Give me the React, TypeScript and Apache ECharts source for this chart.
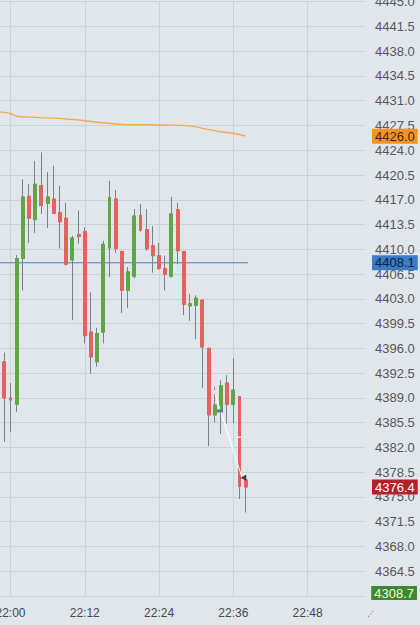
import React, { useEffect, useRef } from "react";
import * as echarts from "echarts";

// minutes after 22:00
const minutes = [-1, 0, 1, 2, 3, 4, 5, 6, 7, 8, 9, 10, 11, 12, 13, 14, 15, 16, 17, 18, 19, 20, 21, 22, 23, 24, 25, 26, 27, 28, 29, 30, 31, 32, 33, 34, 35, 36, 37, 38];
const opens = [4394.1, 4389.0, 4388.1, 4408.7, 4417.5, 4414.2, 4419.0, 4416.5, 4417.1, 4415.2, 4414.4, 4408.5, 4412.1, 4412.5, 4398.3, 4394.1, 4398.3, 4410.2, 4417.1, 4409.7, 4404.2, 4406.2, 4414.8, 4412.8, 4410.5, 4409.1, 4407.3, 4406.2, 4415.6, 4409.7, 4402.0, 4402.1, 4402.8, 4396.0, 4386.6, 4387.4, 4391.1, 4388.1, 4389.2, 4377.4];
const closes = [4389.0, 4388.7, 4408.7, 4417.4, 4414.4, 4419.2, 4416.2, 4417.4, 4415.1, 4413.9, 4407.9, 4411.6, 4411.8, 4397.8, 4394.8, 4398.1, 4410.7, 4417.3, 4410.1, 4404.2, 4406.8, 4414.7, 4412.7, 4410.1, 4409.1, 4407.3, 4406.5, 4415.0, 4409.8, 4402.2, 4402.3, 4403.1, 4396.2, 4386.6, 4388.0, 4390.7, 4388.1, 4390.1, 4376.5, 4376.4];
const lows = [4382.8, 4384.2, 4387.0, 4404.2, 4410.9, 4412.3, 4415.0, 4413.0, 4415.0, 4410.1, 4407.7, 4400.0, 4410.8, 4396.7, 4392.4, 4393.4, 4396.7, 4406.1, 4409.5, 4401.0, 4401.7, 4405.9, 4412.5, 4409.8, 4406.7, 4407.1, 4404.2, 4406.0, 4407.9, 4400.7, 4399.9, 4397.3, 4390.4, 4382.2, 4385.5, 4383.9, 4385.4, 4385.4, 4374.7, 4372.8];
const highs = [4395.4, 4391.1, 4409.2, 4419.9, 4419.2, 4422.5, 4423.7, 4420.9, 4421.8, 4419.0, 4416.6, 4411.9, 4415.5, 4413.1, 4403.9, 4398.9, 4411.2, 4419.7, 4418.4, 4409.8, 4407.5, 4415.7, 4416.4, 4415.7, 4413.3, 4410.9, 4409.1, 4417.4, 4416.6, 4409.7, 4403.7, 4403.5, 4402.9, 4396.1, 4390.6, 4391.5, 4392.2, 4394.6, 4389.2, 4378.1];

// orange average line
const maMinutes = [-2, 0, 1, 4, 9, 12, 15, 18, 24, 29, 31, 34, 36, 38];
const maValues = [4429.45, 4429.2, 4428.8, 4428.65, 4428.42, 4428.18, 4427.88, 4427.66, 4427.57, 4427.45, 4427.1, 4426.62, 4426.4, 4426.0];

// blue level line
const blueLevel = 4408.1;
const blueMinutes = [-12, 38.4];

// drawn annotation line and markers
const annoMinutes = [32.6, 37.45];
const annoValues = [4390.8, 4377.6];
const blueMarker = [33.85, 4387.15];
const blackMarker = [37.6, 4377.7];
const whiteDash = [37, 4383.45];

// right axis price tags
const tagOrange = 4426.0;
const tagBlue = 4408.1;
const tagRed = 4376.4;
const tagGreen = "4308.7";

// axes
const xTickValues = [0, 12, 24, 36, 48];
const xTickLabels = ["22:00", "22:12", "22:24", "22:36", "22:48"];
const yMin = 4361.0;
const yMax = 4445.0;
const yStep = 3.5;
const xMin = -12;
const xMax = 57.27;

const GREEN = "#5ea646";
const RED = "#e8615e";
const WICK = "#7c8187";
const FONT = "Liberation Sans, Arial, sans-serif";

export default function App() {
  const ref = useRef<HTMLDivElement>(null);
  useEffect(() => {
    const chart = echarts.init(ref.current!, null, { renderer: "svg" });
    const wickData = minutes.map((t, i) => [t, opens[i], closes[i], lows[i], highs[i]]);
    const bodyData = minutes.map((t, i) => [
      t,
      opens[i],
      closes[i],
      Math.min(opens[i], closes[i]),
      Math.max(opens[i], closes[i]),
    ]);
    const tagLabel = (bg: string, fg: string) => ({
      show: true,
      position: "end",
      distance: 7,
      opacity: 1,
      backgroundColor: bg,
      color: fg,
      fontSize: 13,
      fontFamily: FONT,
      lineHeight: 14,
      padding: [1, 3, 0, 3],
      formatter: (p: any) => Number(p.value).toFixed(1),
    });
    chart.setOption({
      animation: false,
      backgroundColor: "#e1e6eb",
      textStyle: { fontFamily: FONT },
      grid: {
        left: -63.8,
        right: 55,
        top: 1.7,
        bottom: 29,
        containLabel: false,
        outerBoundsMode: "none",
      },
      xAxis: {
        type: "value",
        min: xMin,
        max: xMax,
        interval: 12,
        axisLine: { show: false },
        axisTick: { show: false },
        splitLine: { show: true, showMaxLine: false, lineStyle: { color: "#cdd2d8", width: 1 } },
        axisLabel: {
          show: true,
          showMaxLabel: false,
          showMinLabel: false,
          margin: 11,
          fontSize: 12,
          color: "#454a50",
          fontFamily: FONT,
          formatter: (v: number) => {
            const i = xTickValues.indexOf(Math.round(v * 100) / 100);
            return i >= 0 ? xTickLabels[i] : "";
          },
        },
      },
      yAxis: {
        type: "value",
        position: "right",
        min: yMin,
        max: yMax,
        interval: yStep,
        axisLine: { show: false },
        axisTick: { show: false },
        splitLine: { show: true, lineStyle: { color: "#cdd2d8", width: 1 } },
        axisLabel: {
          margin: 10,
          fontSize: 13,
          color: "#55595f",
          fontFamily: FONT,
          formatter: (v: number) => (Math.abs(v - yMin) < 1e-6 ? "" : v.toFixed(1)),
        },
      },
      series: [
        {
          type: "candlestick",
          data: wickData,
          encode: { x: 0, y: [1, 2, 3, 4] },
          barWidth: 3.4,
          itemStyle: {
            color: "rgba(0,0,0,0)",
            color0: "rgba(0,0,0,0)",
            borderColor: WICK,
            borderColor0: WICK,
            borderWidth: 1,
          },
          z: 2,
        },
        {
          type: "candlestick",
          data: bodyData,
          encode: { x: 0, y: [1, 2, 3, 4] },
          barWidth: 3.4,
          itemStyle: {
            color: GREEN,
            color0: RED,
            borderColor: GREEN,
            borderColor0: RED,
            borderWidth: 1,
          },
          z: 3,
        },
        {
          type: "line",
          data: maMinutes.map((t, i) => [t, maValues[i]]),
          showSymbol: false,
          smooth: 0.3,
          clip: false,
          lineStyle: { color: "#f2ab55", width: 1.4 },
          z: 10,
          markLine: {
            silent: true,
            symbol: "none",
            lineStyle: { color: "rgba(0,0,0,0)", width: 0, opacity: 1 },
            data: [
              { yAxis: tagOrange, label: tagLabel("#f7931e", "#3b2a12") },
              { yAxis: tagBlue, label: tagLabel("#3b7bc8", "#0f2238") },
              { yAxis: tagRed, label: tagLabel("#b3222b", "#ffffff") },
            ],
          },
        },
        {
          type: "line",
          data: blueMinutes.map((t) => [t, blueLevel]),
          showSymbol: false,
          lineStyle: { color: "#4a7fc1", width: 1 },
          z: 1,
        },
        {
          type: "line",
          data: annoMinutes.map((t, i) => [t, annoValues[i]]),
          showSymbol: false,
          lineStyle: { color: "#ffffff", width: 1 },
          z: 5,
        },
        {
          type: "scatter",
          data: [blueMarker],
          symbol: "rect",
          symbolSize: [6, 3],
          itemStyle: { color: "#2d5f9c" },
          z: 6,
        },
        {
          type: "scatter",
          data: [blackMarker],
          symbol: "triangle",
          symbolRotate: 90,
          symbolSize: 6,
          itemStyle: { color: "#1e1e1e" },
          z: 6,
        },
        {
          type: "scatter",
          data: [whiteDash],
          symbol: "rect",
          symbolSize: [5, 1.5],
          itemStyle: { color: "#ffffff" },
          z: 6,
        },
      ],
      graphic: [
        {
          type: "text",
          right: 3,
          bottom: 25,
          z: 100,
          style: {
            text: tagGreen,
            fill: "#f2f8ee",
            backgroundColor: "#3c8a29",
            padding: [1, 3, 0, 3],
            font: "13px Liberation Sans, Arial, sans-serif",
            lineHeight: 13,
          },
        },
        {
          type: "line",
          shape: { x1: 368, y1: 617, x2: 374, y2: 610 },
          style: { stroke: "#9a9ea3", lineWidth: 1.2, lineDash: [1.5, 1.5] },
        },
      ],
    });
    return () => chart.dispose();
  }, []);
  return (
    <div
      ref={ref}
      style={{ position: "fixed", left: 0, top: 0, width: 420, height: 625, background: "#e1e6eb" }}
    />
  );
}
